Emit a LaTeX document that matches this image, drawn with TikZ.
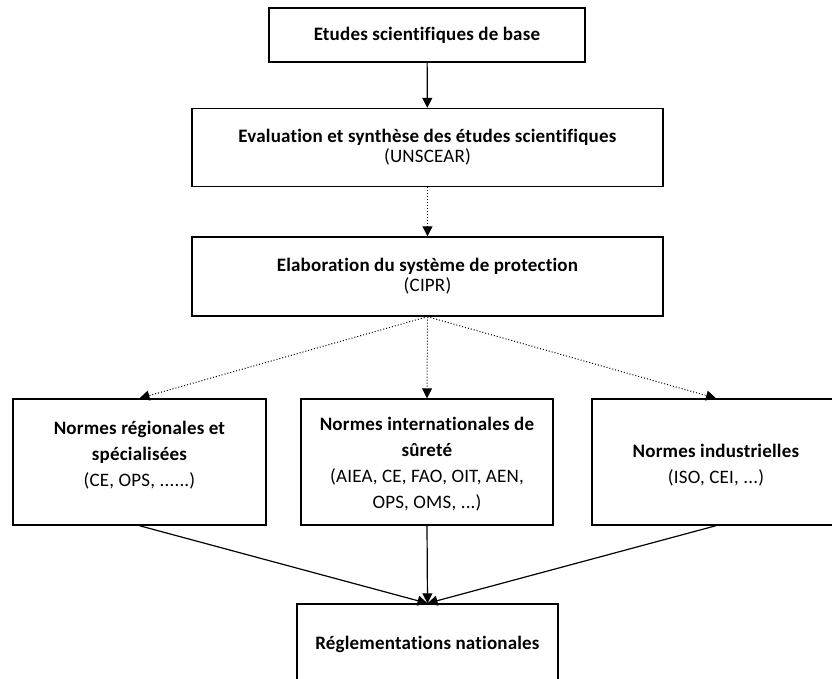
\documentclass[tikz,border=0pt]{standalone}
\usepackage{fontspec}
\setmainfont{Carlito}[LetterSpace=1, Ligatures=NoCommon]
\usetikzlibrary{arrows.meta}

\tikzset{
  box/.style={draw, line width=1.4pt, rectangle, inner sep=0pt, align=center},
  boxtext/.style={align=center, inner sep=0pt, font=\fontsize{19}{20}\selectfont},
  widetext/.style={align=center, inner sep=0pt, font=\fontsize{19}{26}\selectfont},
  plainarrow/.style={line width=1.2pt, -{Triangle[width=10pt,length=10pt]}},
  dotarrow/.style={line width=1pt, dotted, -{Triangle[width=10pt,length=10pt]}}
}

\begin{document}
\begin{tikzpicture}[x=1pt, y=-1pt]
        \useasboundingbox (0,0) rectangle (832,678);
        \clip (0,0) rectangle (832,678);

        % Boxes
        \node[box, minimum width=316pt, minimum height=54pt] (base) at (427,35) {};
        \node[box, minimum width=471pt, minimum height=78pt] (eval) at (427.5,147.5) {};
        \node[box, minimum width=471pt, minimum height=79pt] (elab) at (427.5,276.5) {};
        \node[box, minimum width=253pt, minimum height=126pt] (regio) at (139.5,462) {};
        \node[box, minimum width=252pt, minimum height=126pt] (inter) at (427,462) {};
        \node[box, minimum width=248pt, minimum height=126pt] (indus) at (716,462) {};
        \node[box, minimum width=261pt, minimum height=80pt] (natio) at (427.5,644) {};

        % Texts
        \node[boxtext] (baseT) at (base) {\textbf{Etudes scientifiques de base}};
        \node[boxtext] (evalT) at (eval) {\textbf{Evaluation et synthèse des études scientifiques}\\(UNSCEAR)};
        \node[boxtext] (elabT) at (elab) {\textbf{Elaboration du système de protection}\\(CIPR)};
        \node[widetext] (regioT) at (139.5,455.5) {\textbf{Normes régionales et}\\\textbf{spécialisées}\\(CE, OPS, ......)};
        \node[widetext] (interT) at (427,464.5) {\textbf{Normes internationales de}\\\textbf{sûreté}\\(AIEA, CE, FAO, OIT, AEN,\\OPS, OMS, ...)};
        \node[widetext] (indusT) at (716,465.5) {\textbf{Normes industrielles}\\(ISO, CEI, ...)};
        \node[boxtext] (natioT) at (natio) {\textbf{Réglementations nationales}};

        % Arrows
        \draw[plainarrow] (base) -- (eval);
        \draw[dotarrow] (eval) -- (elab);
        \foreach \n in {regio, inter, indus}
            \draw[dotarrow] (elab.south) -- (\n.north);
        \foreach \n in {regio, inter, indus}
            \draw[plainarrow] (\n.south) -- (natio.north);
    \end{tikzpicture}
\end{document}
